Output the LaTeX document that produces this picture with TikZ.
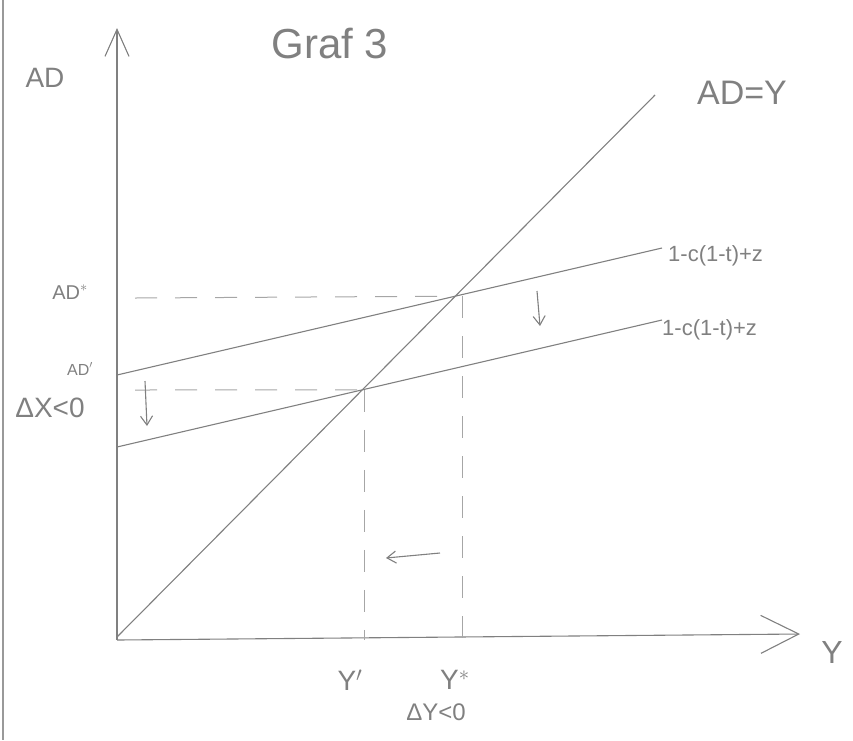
\documentclass[tikz,border=0pt]{standalone}
\usepackage{fontspec}
\setmainfont{Liberation Sans}
\usepackage{tikz}
\usetikzlibrary{positioning,arrows.meta,calc}

\definecolor{pencil}{gray}{0.5}

\begin{document}
\begin{tikzpicture}[x=1pt, y=-1pt,
  pen/.style={draw=pencil, line width=1.1pt},
  guide/.style={draw=pencil!70, line width=1pt, dash pattern=on 22pt off 18pt},
  lbl/.style={text=pencil, inner sep=0pt},
  move/.style={pen, -{Straight Barb[length=9pt,width=12pt]}}]
\useasboundingbox (0,0) rectangle (853,740);
% paper edge
\draw[pencil!80, line width=1.5pt] (3,0) -- (3,740);
% axes
\coordinate (O) at (117,640);
\coordinate (ytip) at (117,28);
\coordinate (xtip) at (800,634);
\draw[pen, -{Straight Barb[length=27pt,width=24pt]}] (O) -- (ytip);
\draw[pen, -{Straight Barb[length=38pt,width=38pt]}] (O) -- (xtip);
\node[lbl, font=\fontsize{28}{30}\selectfont] (ad) at (45,78) {AD};
\node[lbl, font=\fontsize{32}{34}\selectfont] (y) at (832,652) {Y};
\node[lbl, font=\fontsize{42}{46}\selectfont] (title) at (330,44) {Graf 3};
% 45 degree line
\coordinate (d0) at (117,637);
\coordinate (d1) at (655,95);
\draw[pen] (d0) -- (d1);
\node[lbl, font=\fontsize{34}{36}\selectfont] (adeqy) at (742,93) {AD=Y};
% demand lines
\coordinate (u0) at (117,375);
\coordinate (u1) at (662,248);
\coordinate (l0) at (117,447);
\coordinate (l1) at (662,320);
\draw[pen] (u0) -- (u1);
\draw[pen] (l0) -- (l1);
\node[lbl, anchor=west, font=\fontsize{22}{24}\selectfont] (upper) at (668,256) {1-c(1-t)+z};
\node[lbl, anchor=west, font=\fontsize{22}{24}\selectfont] (lower) at (662,330) {1-c(1-t)+z};
% equilibria
\coordinate (E1) at (intersection of d0--d1 and u0--u1);
\coordinate (E2) at (intersection of d0--d1 and l0--l1);
\coordinate (a1) at (135,298);
\coordinate (a2) at (135,390);
\coordinate (b1) at (462,640);
\coordinate (b2) at (364,640);
\draw[guide] (a1) -- (E1);
\draw[guide] (a2) -- (E2);
\draw[guide] (E1 -| b1) -- (b1);
\draw[guide] (E2 -| b2) -- (b2);
\node[lbl, font=\fontsize{20}{22}\selectfont] (adstar) at (70,292) {AD$^{*}$};
\node[lbl, font=\fontsize{16}{18}\selectfont] (adprime) at (80,369) {AD$'$};
\node[lbl, font=\fontsize{28}{30}\selectfont] (dx) at (50,408) {ΔX<0};
\node[lbl, font=\fontsize{28}{30}\selectfont] (yprime) at (350,680) {Y$'$};
\node[lbl, font=\fontsize{28}{30}\selectfont] (ystar) at (455,680) {Y$^{*}$};
\node[lbl, font=\fontsize{24}{26}\selectfont] (dy) at (436,712) {ΔY<0};
% shifts
\coordinate (s1) at (537,291);
\coordinate (s2) at (540,326);
\coordinate (s3) at (145,381);
\coordinate (s4) at (147,426);
\coordinate (s5) at (440,553);
\coordinate (s6) at (386,558);
\draw[move] (s1) -- (s2);
\draw[move] (s3) -- (s4);
\draw[move] (s5) -- (s6);
\end{tikzpicture}
\end{document}
